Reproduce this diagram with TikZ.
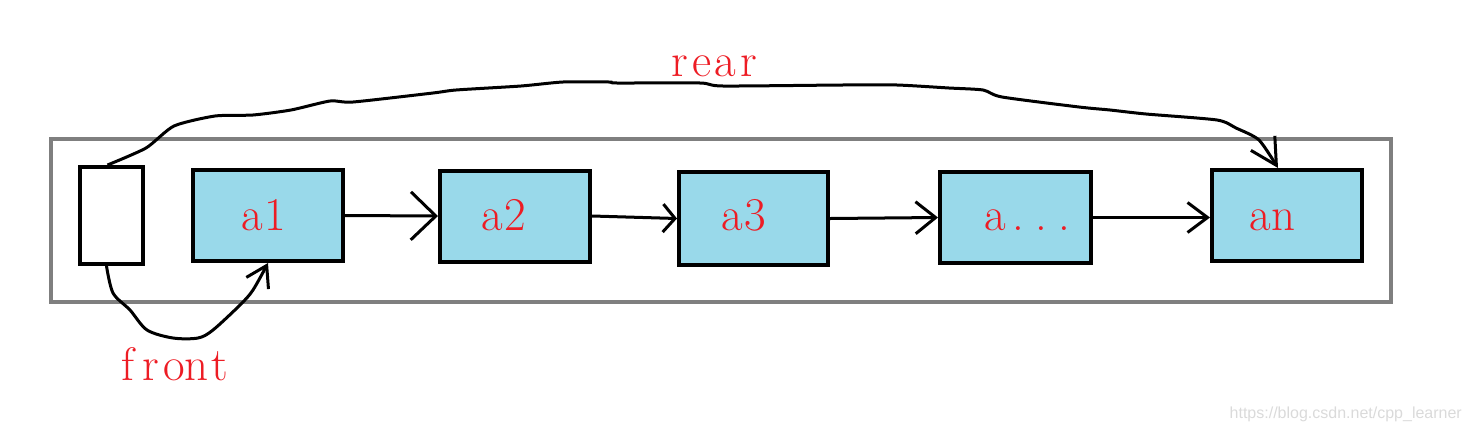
\documentclass[tikz,border=0pt]{standalone}
\usepackage{fontspec}
\newfontfamily\wmfont{Liberation Sans}
\usetikzlibrary{arrows.meta}
\definecolor{qgray}{HTML}{7F7F7F}
\definecolor{qblue}{HTML}{99D9EA}
\definecolor{qred}{HTML}{ED1C24}
\definecolor{wmgray}{HTML}{DADADA}
\newcommand\mcell[1]{\makebox[23pt][c]{#1}}
\begin{document}
\begin{tikzpicture}[x=1pt,y=-1pt,
  cellbox/.style={draw=black,line width=4pt,fill=qblue,minimum width=150pt,minimum height=91pt,inner sep=0pt},
  ptrbox/.style={draw=black,line width=4pt,fill=white,minimum width=63pt,minimum height=97pt,inner sep=0pt},
  qframe/.style={draw=qgray,line width=4pt,minimum width=1340pt,minimum height=163pt,inner sep=0pt},
  lbl/.style={text=qred,font=\fontsize{47}{50}\selectfont,inner sep=0pt,anchor=base},
  link/.style={line width=3pt},
]
\useasboundingbox (0,0) rectangle (1472,432);
\node[qframe] (queue) at (721,220.5) {};
\node[ptrbox] (sb) at (111.5,215.5) {};
\node[cellbox] (a1) at (268,215.5) {};
\node[cellbox] (a2) at (515,216) {};
\node[cellbox,minimum width=149pt,minimum height=93pt] (a3) at (753.5,218.5) {};
\node[cellbox,minimum width=151pt] (a4) at (1015.5,217.5) {};
\node[cellbox] (an) at (1287,215.5) {};

\node[lbl] (t1) at (263.5,230.7) {\mcell{a}\mcell{1}};
\node[lbl] (t2) at (504,230.7) {\mcell{a}\mcell{2}};
\node[lbl] (t3) at (744,230.7) {\mcell{a}\mcell{3}};
\node[lbl] (t4) at (1030,230.5) {\mcell{a}\mcell{.}\mcell{.}\mcell{.}};
\node[lbl] (tn) at (1272,230.7) {\mcell{a}\mcell{n}};
\node[lbl] (front) at (174,380) {\mcell{f}\mcell{r}\mcell{o}\mcell{n}\mcell{t}};
\node[lbl] (rear) at (714,76.7) {\mcell{r}\mcell{e}\mcell{a}\mcell{r}};

\draw[link,-{Straight Barb[length=25pt,width=48pt]}] (a1.east) -- (a2.west);
\draw[link,-{Straight Barb[length=12pt,width=28pt]}] (a2.east) -- (a3.west);
\draw[link,-{Straight Barb[length=20pt,width=32pt]}] (a3.east) -- (a4.west);
\draw[link,-{Straight Barb[length=20pt,width=30pt]}] (a4.east) -- (a4.east -| an.west);

\coordinate (rs) at ([xshift=-4pt]sb.north);
\coordinate (re) at ([xshift=-9pt]an.north);
\draw[link,-{Straight Barb[length=26pt,width=28pt]}] plot[smooth,tension=0.4] coordinates {(rs) (146,148) (174,126) (215,116) (253,115) (291,110) (330,101) (353,102) (433,93) (456,90) (521,86) (563,82) (609,82) (617,83) (700,83) (723,86) (842,85) (897,85) (949,88) (983,90) (1002,97) (1079,107) (1110,110) (1146,114) (1217,120) (1236,128) (1259,140) (re)};

\coordinate (fs) at ([xshift=-5pt]sb.south);
\draw[link,-{Straight Barb[length=20pt,width=25pt]}] plot[smooth,tension=0.5] coordinates {(fs) (113,293) (130,310) (147,330) (173,338) (198,338) (213,330) (240,305) (253,290) (a1.south)};

\node[font=\wmfont\fontsize{16}{18}\selectfont,text=wmgray,anchor=base east,inner sep=0pt] (wm) at (1462,418) {https://blog.csdn.net/cpp\_learner};
\end{tikzpicture}
\end{document}
